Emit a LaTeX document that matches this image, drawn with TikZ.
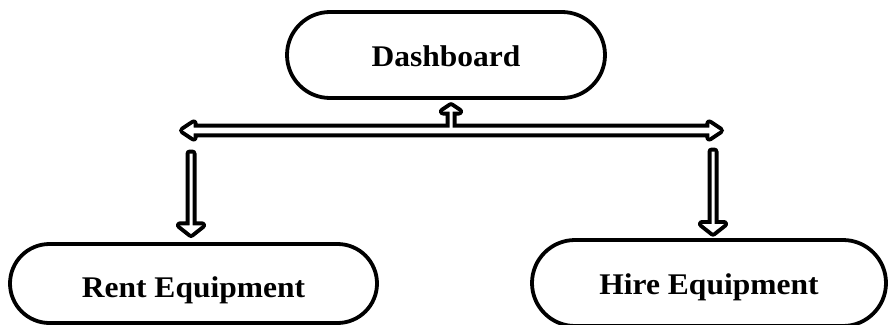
\documentclass[tikz,border=0pt]{standalone}
\usepackage{fontspec}
\setmainfont{Liberation Serif}[FakeStretch=1.05]
\usetikzlibrary{calc,shapes.misc}
\tikzset{
  pill/.style 2 args={shape=rounded rectangle, draw=black, line width=3.8pt,
    minimum width=#1, minimum height=#2, inner sep=0pt,
    font=\fontsize{30}{36}\selectfont\bfseries, text height=22pt, text depth=0pt},
  % hollow block arrow: shaft half-width, head half-width, head length
  onearrow/.style n args={3}{to path={
    let \p1=($(\tikztotarget)!#3!(\tikztostart)$) in
    ($(\tikztostart)!#1!90:(\tikztotarget)$)
    -- ($(\p1)!#1!90:(\tikztotarget)$)
    -- ($(\p1)!#2!90:(\tikztotarget)$)
    -- (\tikztotarget)
    -- ($(\p1)!#2!-90:(\tikztotarget)$)
    -- ($(\p1)!#1!-90:(\tikztotarget)$)
    -- ($(\tikztostart)!#1!-90:(\tikztotarget)$)
    -- cycle}},
  % same, with a head at both ends
  twinarrow/.style n args={3}{to path={
    let \p1=($(\tikztotarget)!#3!(\tikztostart)$),
        \p2=($(\tikztostart)!#3!(\tikztotarget)$) in
    (\tikztostart)
    -- ($(\p2)!#2!90:(\tikztotarget)$)
    -- ($(\p2)!#1!90:(\tikztotarget)$)
    -- ($(\p1)!#1!90:(\tikztotarget)$)
    -- ($(\p1)!#2!90:(\tikztotarget)$)
    -- (\tikztotarget)
    -- ($(\p1)!#2!-90:(\tikztotarget)$)
    -- ($(\p1)!#1!-90:(\tikztotarget)$)
    -- ($(\p2)!#1!-90:(\tikztotarget)$)
    -- ($(\p2)!#2!-90:(\tikztotarget)$)
    -- cycle}},
  % arrows are stroked wide, then filled white so joined arrows share one outline
  outlinepass/.style={draw=black, line width=8pt, line join=round},
  fillpass/.style={fill=white}
}
\begin{document}
\begin{tikzpicture}[x=1pt, y=-1pt]
  \useasboundingbox (0,0) rectangle (888,324);

  \node[pill={318pt}{86pt}] (dash) at (446,55) {Dashboard};
  \node[pill={367pt}{79pt}, text height=27pt] (rent) at (193.5,283.5) {Rent Equipment};
  \node[pill={354pt}{86pt}] (hire) at (709,283) {Hire Equipment};

  \coordinate (west) at (183,130.5);
  \coordinate (east) at (720,130.5);
  \coordinate (hub)  at (451,130.5);
  \coordinate (up)   at ([xshift=5pt, yshift=-6.3pt]dash.south);
  \coordinate (ltop) at (191,153.5);
  \coordinate (rtop) at (713,151.5);
  \coordinate (ltip) at ([xshift=-2.5pt, yshift=8.1pt]rent.north);
  \coordinate (rtip) at ([xshift=4pt, yshift=5.4pt]hire.north);

  \foreach \pass in {outlinepass, fillpass} {
    \path[\pass] (west) to[twinarrow={2.8pt}{7pt}{10.6pt}] (east);
    \path[\pass] (hub)  to[onearrow={1.5pt}{8pt}{5.3pt}] (up);
    \path[\pass] (ltop) to[onearrow={1.5pt}{11pt}{8.7pt}] (ltip);
    \path[\pass] (rtop) to[onearrow={1.5pt}{11pt}{8.7pt}] (rtip);
  }
\end{tikzpicture}
\end{document}
